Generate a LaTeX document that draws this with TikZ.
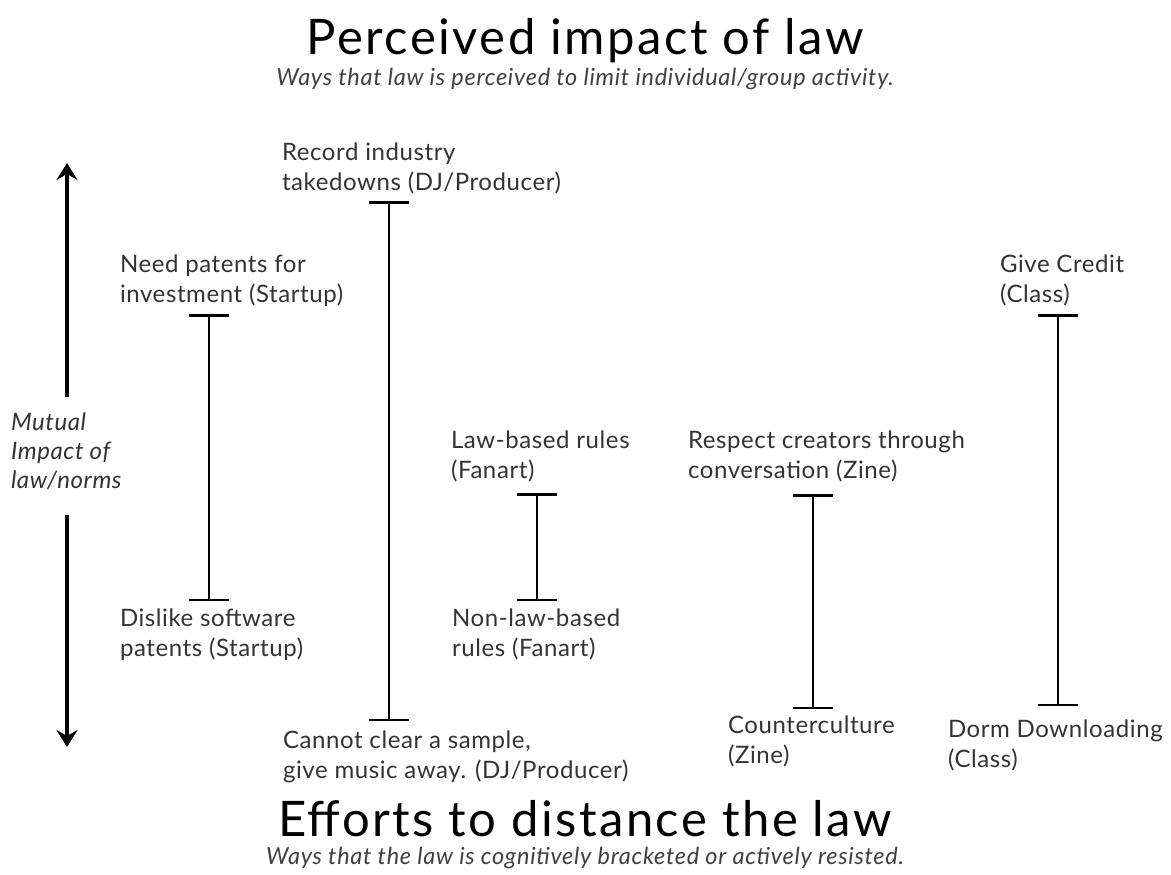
\documentclass[tikz,border=0pt]{standalone}
\usepackage{fontspec}
\setmainfont{Lato}
\newfontfamily\bodyfont[LetterSpace=2.5]{Lato}
\newfontfamily\titlefont[LetterSpace=5]{Lato}
\newfontfamily\subfont[LetterSpace=3]{Lato}
\usetikzlibrary{arrows.meta,positioning}

\begin{document}
\begin{tikzpicture}[
        x=1pt, y=-1pt,
        every node/.style={inner sep=0pt, outer sep=0pt},
        heading/.style={anchor=base, font=\titlefont\fontsize{49}{56}\selectfont},
        subheading/.style={anchor=base, text=black!75, font=\subfont\fontsize{23.5}{26}\selectfont\itshape},
        item/.style={anchor=base west, align=left, text=black!80, font=\bodyfont\fontsize{24}{30}\selectfont},
        bracket/.style={line width=2.5pt, {Bar[width=40pt]}-{Bar[width=40pt]}},
        axis/.style={line width=4pt, -{Stealth[length=17pt, width=21pt, inset=6pt]}}
    ]

    \useasboundingbox (0,0) rectangle (1171,875);

    % Titles
    \node[heading] (top) at (585,55) {Perceived impact of law};
    \node[subheading] (topsub) at (585,86) {Ways that law is perceived to limit individual/group activity.};
    \node[heading] (bottom) at (585,836) {Efforts to distance the law};
    \node[subheading] (bottomsub) at (585,864) {Ways that the law is cognitively bracketed or actively resisted.};

    % Axis
    \node[item, font=\bodyfont\fontsize{24}{29}\selectfont\itshape] (mutual) at (11,488) {Mutual\\Impact of\\law/norms};
    \coordinate (axisup) at (67,397);
    \coordinate (axistop) at (67,163);
    \coordinate (axisdown) at (67,515);
    \coordinate (axisbot) at (67,747);
    \draw[axis] (axisup) -- (axistop);
    \draw[axis] (axisdown) -- (axisbot);

    % Nodes (anchored on the last line)
    \node[item] (needpat) at (120,302) {Need patents for\\investment (Startup)};
    \node[item] (dislike) at (120,656) {Dislike software\\patents (Startup)};
    \node[item] (record) at (282,190) {Record industry\\takedowns (DJ/Producer)};
    \node[item] (sample) at (283,778) {Cannot clear a sample,\\give music away. (DJ/Producer)};
    \node[item] (lawrules) at (451,478) {Law-based rules\\(Fanart)};
    \node[item] (nonlaw) at (452,656) {Non-law-based\\rules (Fanart)};
    \node[item] (respect) at (688,478) {Respect creators through\\conversation (Zine)};
    \node[item] (counter) at (728,763) {Counterculture\\(Zine)};
    \node[item] (credit) at (1000,302) {Give Credit\\(Class)};
    \node[item] (dorm) at (948,767) {Dorm Downloading\\(Class)};

    % Brackets
    \coordinate (startupA) at (209,314);
    \coordinate (startupB) at (209,601);
    \coordinate (djA) at (389,201);
    \coordinate (djB) at (389,721);
    \coordinate (fanartA) at (537,493);
    \coordinate (fanartB) at (537,601);
    \coordinate (zineA) at (813,494);
    \coordinate (zineB) at (813,709);
    \coordinate (classA) at (1058,314);
    \coordinate (classB) at (1058,706);

    \draw[bracket] (startupA) -- (startupB);
    \draw[bracket] (djA) -- (djB);
    \draw[bracket] (fanartA) -- (fanartB);
    \draw[bracket] (zineA) -- (zineB);
    \draw[bracket] (classA) -- (classB);

\end{tikzpicture}
\end{document}
